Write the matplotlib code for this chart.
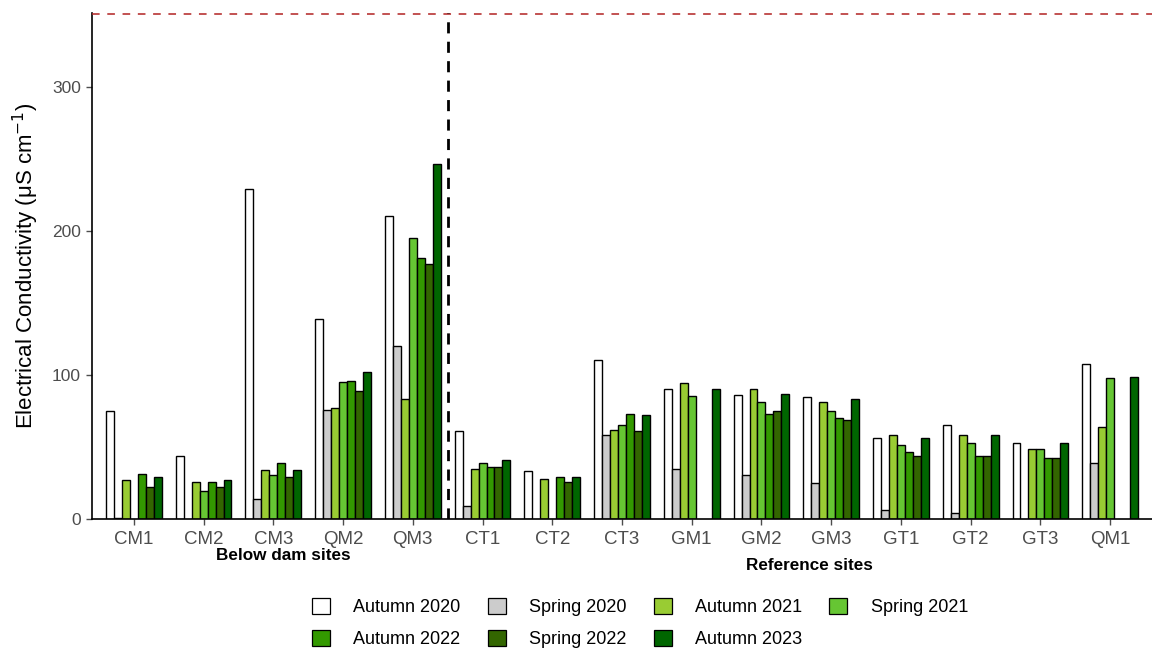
import numpy as np
import matplotlib
matplotlib.use("Agg")
import matplotlib.pyplot as plt
from matplotlib.patches import Patch

plt.rcParams['font.family'] = ['Liberation Sans', 'DejaVu Sans']

sites = ["CM1", "CM2", "CM3", "QM2", "QM3", "CT1", "CT2", "CT3",
         "GM1", "GM2", "GM3", "GT1", "GT2", "GT3", "QM1"]
seasons = ["Autumn 2020", "Spring 2020", "Autumn 2021", "Spring 2021",
           "Autumn 2022", "Spring 2022", "Autumn 2023"]
colors = ["#ffffff", "#cccccc", "#99cc33", "#66c633", "#339900", "#336600", "#006600"]

nan = np.nan
autumn_2020 = [75, 44, 229, 139, 210, 61, 33, 110, 90, 86, 84.5, 56.5, 65, 52.5, 107.5]
spring_2020 = [1, nan, 14, 75.5, 120, 9, nan, 58, 35, 30.5, 25, 6.5, 4.5, nan, 38.5]
autumn_2021 = [27, 26, 34, 77, 83, 35, 27.5, 62, 94, 90, 81, 58.5, 58.5, 48.5, 63.5]
spring_2021 = [nan, 19.5, 30.5, 95, 195, 39, nan, 65, 85, 81, 75, 51.5, 52.5, 48.5, 97.5]
autumn_2022 = [31, 26, 39, 96, 181, 36, 29, 73, nan, 73, 70, 46.5, 43.5, 42, nan]
spring_2022 = [22, 22, 29, 89, 177, 36, 25.5, 61, nan, 75, 68.5, 43.5, 43.5, 42, nan]
autumn_2023 = [29, 27, 34, 102, 246, 41, 29, 72, 90, 87, 83, 56.5, 58.5, 52.5, 98.5]

series = [autumn_2020, spring_2020, autumn_2021, spring_2021,
          autumn_2022, spring_2022, autumn_2023]

guideline = 350

fig = plt.figure(figsize=(11.52, 6.52), dpi=100)
ax = fig.add_axes([92 / 1152, 1 - 519 / 652, (1152 - 92) / 1152, (519 - 13) / 652])

x = np.arange(1, len(sites) + 1)
n = len(series)
w = 0.8 / n
for i, (vals, c) in enumerate(zip(series, colors)):
    offs = -0.4 + w * (i + 0.5)
    ax.bar(x + offs, vals, width=w, color=c, edgecolor="black", linewidth=1.0, zorder=2)

ax.axhline(guideline, color="#b22222", linestyle=(0, (5, 5)), linewidth=1.1, zorder=3)
ax.axvline(5.5, color="black", linestyle=(0, (4, 3)), linewidth=2.0, zorder=3)

ax.set_xlim(0.4, 15.6)
ax.set_ylim(0, 351)
ax.set_xticks(x)
ax.set_xticklabels(sites)
ax.set_yticks([0, 100, 200, 300])
ax.tick_params(axis="both", colors="#4d4d4d", length=4, width=1)
ax.tick_params(axis="x", labelsize=13.5, pad=5)
ax.tick_params(axis="y", labelsize=12.5, pad=4)
for sp in ["top", "right"]:
    ax.spines[sp].set_visible(False)
for sp in ["left", "bottom"]:
    ax.spines[sp].set_linewidth(1.2)
    ax.spines[sp].set_color("black")
ax.set_ylabel("Electrical Conductivity (μS cm$^{-1}$)", fontsize=16, color="black", labelpad=8)

fig.text(283 / 1152, 1 - 556 / 652, "Below dam sites", ha="center", va="center",
         fontsize=12.3, fontweight="bold")
fig.text(809 / 1152, 1 - 566 / 652, "Reference sites", ha="center", va="center",
         fontsize=12.3, fontweight="bold")

handles = [Patch(facecolor=c, edgecolor="black", linewidth=0.9, label=s)
           for s, c in zip(seasons, colors)]
order = [0, 4, 1, 5, 2, 6, 3]
fig.legend([handles[i] for i in order], [seasons[i] for i in order],
           loc="center", bbox_to_anchor=(640 / 1152, 1 - 623 / 652), ncol=4,
           frameon=False, fontsize=13, handlelength=1.0, handleheight=1.0,
           columnspacing=1.5, handletextpad=1.3, labelspacing=0.75)

fig.savefig("out.png", dpi=100)
